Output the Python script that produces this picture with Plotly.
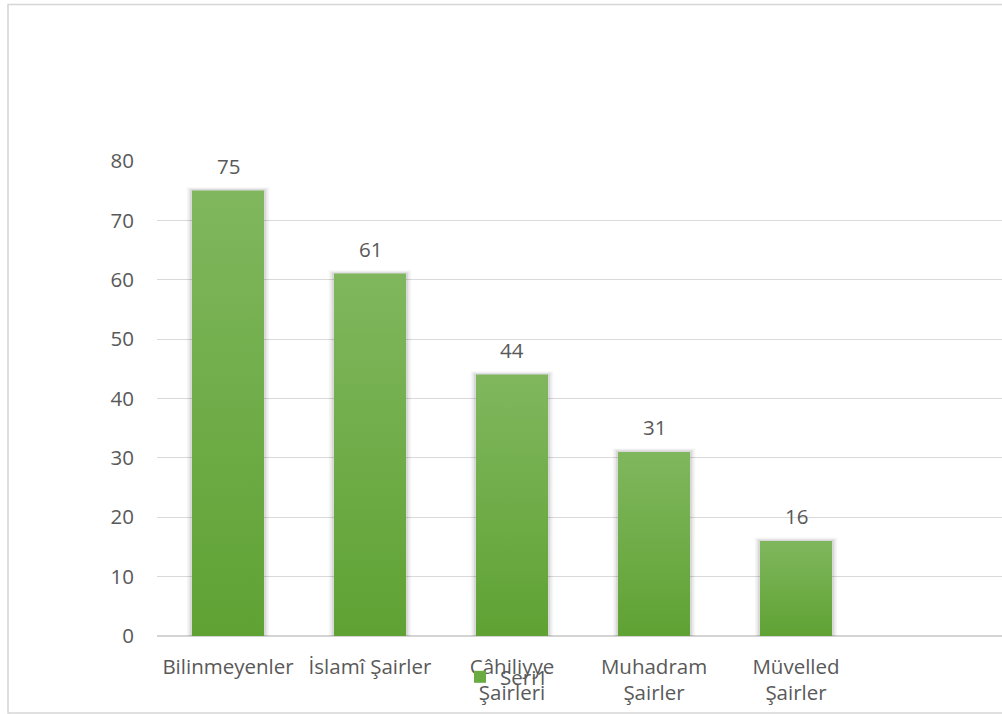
import plotly.graph_objects as go

# Poet groups and counts
categories = ["Bilinmeyenler", "İslamî Şairler", "Câhiliyye<br>Şairleri",
              "Muhadram<br>Şairler", "Müvelled<br>Şairler"]
values = [75, 61, 44, 31, 16]
series_name = "Seri1"
y_ticks = [0, 10, 20, 30, 40, 50, 60, 70, 80]

W, H = 1002, 714
ML, MT, MB = 157, 161, 78
SLOT_PX = 142                      # pixel width of one category slot
n_slots = (W - ML) / SLOT_PX
BAR_W = 0.507
TOP_C, BOT_C = "#80B75E", "#5FA233"
TXT = "#595959"
FONT = "Open Sans"
FS = 20.5

xs = list(range(len(values)))
fig = go.Figure()

# soft shadow behind each column
for grow, alpha in [(0.075, 0.035), (0.05, 0.05), (0.028, 0.07)]:
    fig.add_trace(go.Bar(
        x=xs, y=[v + grow * 8 for v in values], width=BAR_W + grow,
        marker=dict(color=f"rgba(0,0,0,{alpha})", line=dict(width=0)),
        showlegend=False, hoverinfo="skip"))

# the columns themselves (solid base, also provides the legend entry)
fig.add_trace(go.Bar(
    x=xs, y=values, width=BAR_W, name=series_name,
    marker=dict(color="#6AAC42", line=dict(width=0)),
    showlegend=True))

# vertical gradient over each column
for x, v in zip(xs, values):
    x0, x1 = x - BAR_W / 2, x + BAR_W / 2
    fig.add_trace(go.Scatter(
        x=[x0, x1, x1, x0, x0], y=[0, 0, v, v, 0],
        mode="none", fill="toself",
        fillgradient=dict(type="vertical",
                          colorscale=[[0, BOT_C], [1, TOP_C]]),
        showlegend=False, hoverinfo="skip"))

# value labels above the columns
for x, v in zip(xs, values):
    fig.add_annotation(x=x, y=v, text=str(v), showarrow=False,
                       yshift=25, font=dict(family=FONT, size=FS, color=TXT))

# outer chart frame
pw, ph = W - ML, H - MT - MB
fig.add_shape(type="rect", xref="paper", yref="paper",
              x0=(8 - ML) / pw, x1=(W + 20 - ML) / pw,
              y0=-(713 - (H - MB)) / ph, y1=(H - MB - 4.5) / ph,
              line=dict(color="#d6d6d6", width=1.6), layer="below")

fig.update_layout(
    width=W, height=H,
    margin=dict(l=ML, r=0, t=MT, b=MB),
    paper_bgcolor="white", plot_bgcolor="white",
    barmode="overlay",
    font=dict(family=FONT, size=FS, color=TXT),
    xaxis=dict(range=[-0.5, n_slots - 0.5], tickmode="array",
               tickvals=xs, ticktext=categories,
               showgrid=False, zeroline=False, showline=False,
               ticks="", ticklabelstandoff=16,
               tickfont=dict(family=FONT, size=FS, color=TXT)),
    yaxis=dict(range=[0, 80], tickmode="array", tickvals=y_ticks,
               showgrid=True, gridcolor="#d9d9d9", gridwidth=1.4,
               zeroline=True, zerolinecolor="#d4d4d4", zerolinewidth=1.6,
               showline=False, ticks="", ticklabelstandoff=22,
               tickfont=dict(family=FONT, size=FS, color=TXT)),
    legend=dict(x=(460 - ML) / pw, y=-(677 - (H - MB)) / ph,
                xanchor="left", yanchor="middle", orientation="h",
                bgcolor="rgba(0,0,0,0)",
                font=dict(family=FONT, size=FS, color=TXT)),
)

fig.write_html("out.html")
